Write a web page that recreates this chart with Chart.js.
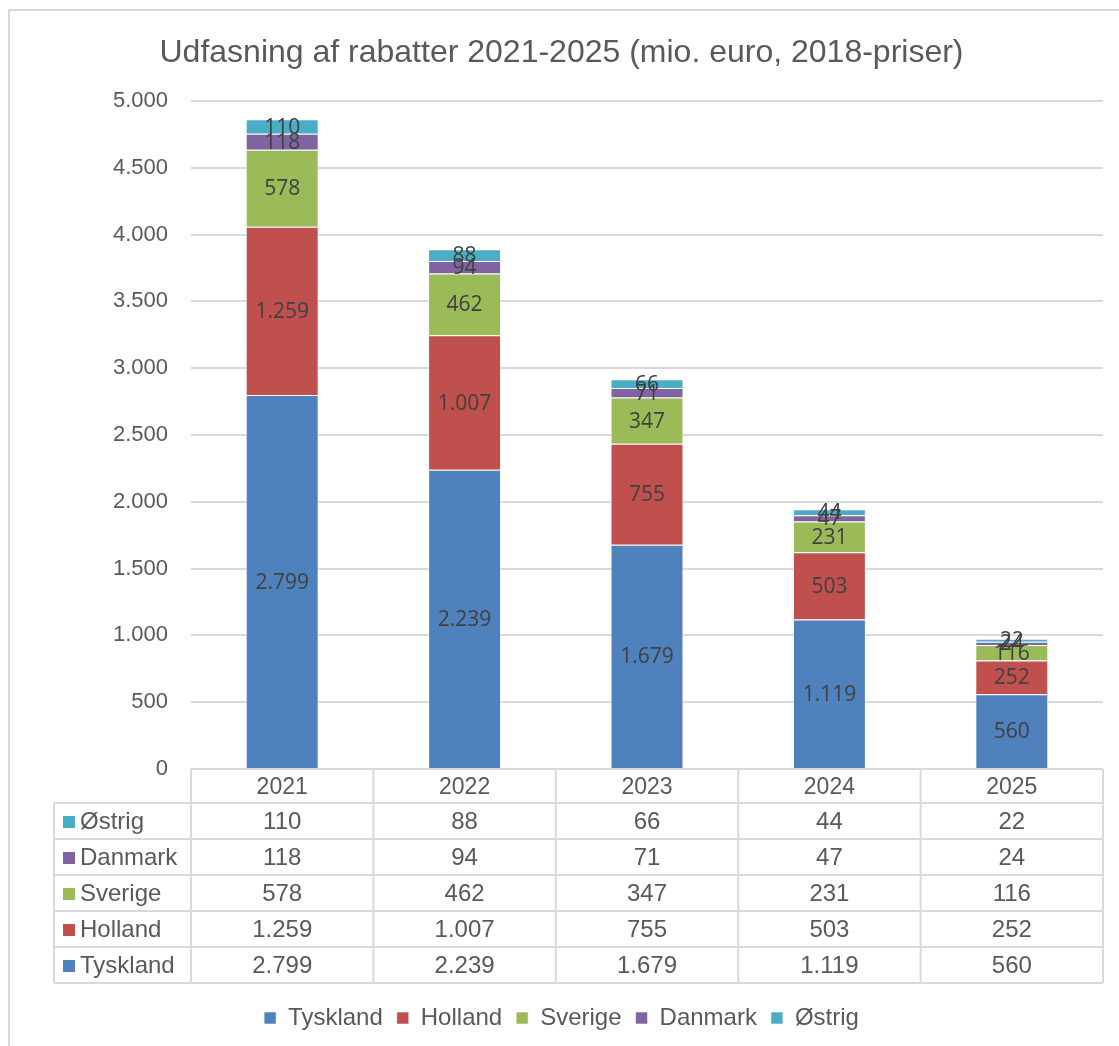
<!DOCTYPE html>
<html><head><meta charset="utf-8">
<script src="https://cdn.jsdelivr.net/npm/chart.js@4.4.1/dist/chart.umd.min.js"></script>
<style>
html,body{margin:0;padding:0;background:#fff;overflow:hidden;}
#wrap{position:relative;width:1119px;height:1046px;overflow:hidden;}
#frame{position:absolute;left:8px;top:9px;width:1200px;height:1100px;border:2px solid #d9d9d9;box-sizing:border-box;pointer-events:none;}
canvas{position:absolute;left:0;top:0;}
</style></head><body>
<div id="wrap"><div id="frame"></div><canvas id="c" width="1119" height="1046"></canvas></div>
<script>
const years = ['2021', '2022', '2023', '2024', '2025'];
const tyskland = [2799, 2239, 1679, 1119, 560];
const holland = [1259, 1007, 755, 503, 252];
const sverige = [578, 462, 347, 231, 116];
const danmark = [118, 94, 71, 47, 24];
const ostrig = [110, 88, 66, 44, 22];
const seriesNames = ['Tyskland', 'Holland', 'Sverige', 'Danmark', 'Østrig'];
const seriesData = [tyskland, holland, sverige, danmark, ostrig];
const seriesColors = ['#4F81BD', '#C0504D', '#9BBB59', '#8064A2', '#4BACC6'];
const yMin = 0, yMax = 5000, yStep = 500;
const titleText = 'Udfasning af rabatter 2021-2025 (mio. euro, 2018-priser)';

const FONT = "'Liberation Sans', Arial, sans-serif";
const TXT = '#595959';
const GRID = '#d9d9d9';

function fmt(v) { return String(v).replace(/\B(?=(\d{3})+(?!\d))/g, '.'); }

const barLabels = {
  id: 'barLabels',
  afterDatasetsDraw(chart) {
    const ctx = chart.ctx;
    ctx.save();
    ctx.font = "21px 'Open Sans', sans-serif";
    ctx.fillStyle = '#404040';
    ctx.textAlign = 'center';
    ctx.textBaseline = 'middle';
    chart.data.datasets.forEach((ds, i) => {
      const meta = chart.getDatasetMeta(i);
      meta.data.forEach((bar, j) => {
        const p = bar.getProps(['x', 'y', 'base'], true);
        ctx.fillText(fmt(ds.data[j]), p.x, (p.y + p.base) / 2 + 1);
      });
    });
    ctx.restore();
  }
};

const dataTable = {
  id: 'dataTable',
  afterDraw(chart) {
    const ctx = chart.ctx;
    const xs = chart.scales.x;
    const ca = chart.chartArea;
    const n = years.length;
    const cw = (ca.right - ca.left) / n;
    const headerTop = ca.bottom;
    const headerH = 34;
    const rowH = 36;
    const tableLeft = 54;
    const rowsTop = headerTop + headerH;
    const nRows = seriesNames.length;
    const bottom = rowsTop + rowH * nRows;
    ctx.save();
    ctx.strokeStyle = GRID;
    ctx.lineWidth = 2;
    ctx.beginPath();
    ctx.moveTo(ca.left, headerTop); ctx.lineTo(ca.right, headerTop);
    for (let r = 0; r <= nRows; r++) {
      const y = rowsTop + r * rowH;
      ctx.moveTo(tableLeft, y); ctx.lineTo(ca.right, y);
    }
    for (let c = 0; c <= n; c++) {
      const x = ca.left + c * cw;
      ctx.moveTo(x, headerTop); ctx.lineTo(x, bottom);
    }
    ctx.moveTo(tableLeft, rowsTop); ctx.lineTo(tableLeft, bottom);
    ctx.stroke();

    ctx.font = '24px ' + FONT;
    ctx.textBaseline = 'middle';
    for (let r = 0; r < nRows; r++) {
      const si = nRows - 1 - r;
      const cy = rowsTop + r * rowH + rowH / 2 + 1;
      ctx.fillStyle = seriesColors[si];
      ctx.fillRect(63, cy - 6, 12, 12);
      ctx.fillStyle = TXT;
      ctx.textAlign = 'left';
      ctx.fillText(seriesNames[si], 80, cy);
      ctx.textAlign = 'center';
      for (let c = 0; c < n; c++) {
        const x = xs.getPixelForValue(c);
        ctx.fillText(fmt(seriesData[si][c]), x, cy);
      }
    }
    ctx.restore();
  }
};

const datasets = seriesNames.map((name, i) => ({
  label: name,
  data: seriesData[i],
  backgroundColor: seriesColors[i],
  borderColor: 'rgba(255,255,255,0.55)',
  borderWidth: 1,
  barPercentage: 0.4,
  categoryPercentage: 1.0
}));

new Chart(document.getElementById('c'), {
  type: 'bar',
  data: { labels: years, datasets: datasets },
  options: {
    responsive: false,
    animation: false,
    layout: { padding: { left: 4, right: 0, top: 0, bottom: 6 } },
    plugins: {
      title: {
        display: true,
        text: titleText,
        color: TXT,
        font: { family: FONT, size: 32, weight: 'normal' },
        padding: { top: 34, bottom: 28.6 }
      },
      legend: {
        position: 'bottom',
        labels: {
          boxWidth: 12,
          boxHeight: 12,
          color: TXT,
          font: { family: FONT, size: 24 },
          padding: 14
        }
      },
      tooltip: { enabled: false }
    },
    scales: {
      x: {
        stacked: true,
        grid: { display: false, drawTicks: false },
        border: { display: false },
        ticks: { color: TXT, font: { family: FONT, size: 23 }, padding: 5 },
        afterFit(scale) { scale.height = 223; }
      },
      y: {
        stacked: true,
        min: yMin,
        max: yMax,
        grid: { color: GRID, lineWidth: 2, drawTicks: false },
        border: { display: false },
        ticks: {
          stepSize: yStep,
          color: TXT,
          font: { family: FONT, size: 22 },
          padding: 23,
          callback: (v) => fmt(v)
        },
        afterFit(scale) { scale.width = 187; }
      },
      yPad: {
        position: 'right',
        display: true,
        grid: { display: false, drawTicks: false },
        border: { display: false },
        ticks: { display: false },
        afterFit(scale) { scale.width = 16; }
      }
    }
  },
  plugins: [barLabels, dataTable]
});
</script>
</body></html>
